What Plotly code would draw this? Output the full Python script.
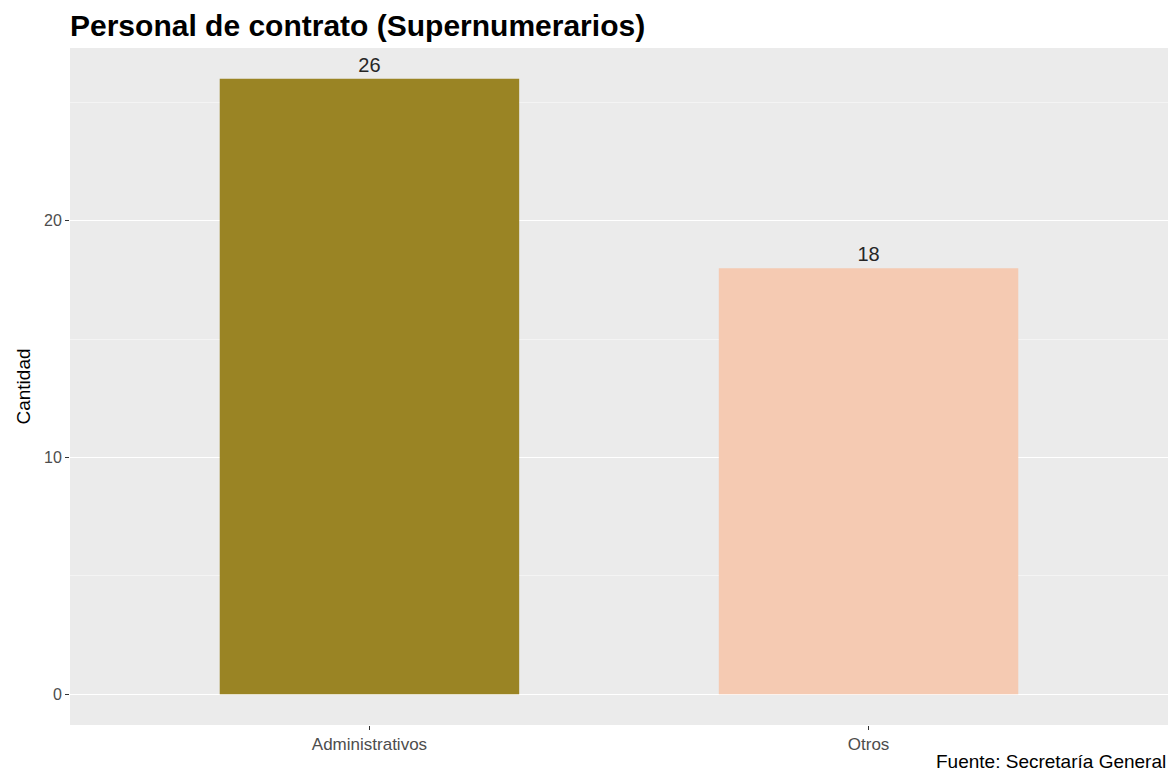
import plotly.graph_objects as go

categories = ["Administrativos", "Otros"]
values = [26, 18]
colors = ["#9A8424", "#F5CAB2"]
y_ticks = [0, 10, 20]

FONT = "Liberation Sans, Arial, Helvetica"

fig = go.Figure()
fig.add_trace(go.Bar(
    x=categories, y=values, width=0.6,
    marker=dict(color=colors, line=dict(width=0)),
    text=[str(v) for v in values], textposition="outside",
    textfont=dict(family=FONT, size=20, color="#262626"),
    cliponaxis=False, showlegend=False,
))

fig.update_layout(
    width=1173, height=771,
    margin=dict(l=70, r=5, t=48, b=46),
    paper_bgcolor="white", plot_bgcolor="#EBEBEB",
    font=dict(family=FONT, color="#4D4D4D"),
    title=dict(text="<b>Personal de contrato (Supernumerarios)</b>",
               x=0, xref="paper", xanchor="left",
               y=1-25/771, yref="container", yanchor="middle",
               font=dict(size=30, color="black", family=FONT)),
    bargap=0.4,
)
fig.update_xaxes(
    type="category", range=[-0.6, 1.6], showgrid=False, zeroline=False,
    ticks="outside", ticklen=4, tickcolor="#333333",
    tickfont=dict(size=17, color="#4D4D4D"), showline=False,
)
fig.update_yaxes(
    range=[-1.3, 27.3], tickvals=y_ticks, zeroline=False,
    showgrid=True, gridcolor="white", gridwidth=1.3,
    minor=dict(tickvals=[5, 15, 25], showgrid=True, gridcolor="#F4F4F4", gridwidth=0.8, ticks=""),
    ticks="outside", ticklen=4, tickcolor="#333333",
    tickfont=dict(size=16, color="#4D4D4D"),
    title=dict(text="Cantidad", font=dict(size=19, color="black"), standoff=8),
)
fig.add_annotation(
    text="Fuente: Secretaría General", xref="paper", yref="paper",
    x=1.0, y=-(761-725)/677, xanchor="right", yanchor="middle",
    showarrow=False, font=dict(size=19, color="black"),
)
fig.write_html("out.html", config={"displayModeBar": False},
               post_script="document.body.style.margin='0px';document.body.style.overflow='hidden';")
